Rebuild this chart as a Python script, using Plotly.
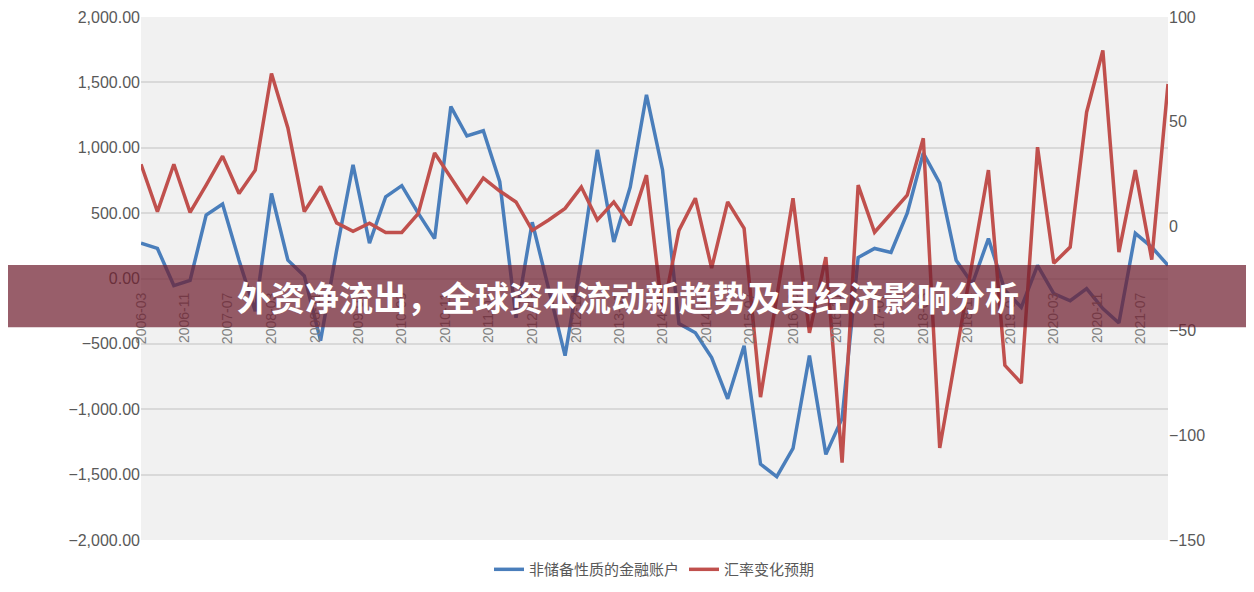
import pandas as pd
import plotly.graph_objects as go

# quarterly observations, 2006-03 .. 2021-12
dates = pd.date_range("2006-03-01", periods=64, freq="3MS")

financial_account = [
    270, 230, -54, -15, 485, 570, 140, -250, 650, 140,
    20, -475, 215, 870, 270, 625, 710, 500, 305, 1315,
    1090, 1130, 740, -300, 430, -90, -590, 150, 985, 280,
    700, 1405, 830, -345, -415, -605, -920, -515, -1420, -1515,
    -1300, -590, -1345, -1070, 160, 230, 200, 500, 960, 730,
    140, -40, 305, -90, -220, 100, -115, -170, -77, -230,
    -340, 345, 240, 100,
]
fx_expectation = [
    29.6, 7, 29.6, 6.6, 19.6, 33.5, 15.6, 26.8, 73, 47,
    7, 19, 1.6, -2.4, 1.4, -3, -3, 6, 35, 23.6,
    11.6, 23, 16.8, 11.6, -2, 3, 8.5, 18.7, 3, 11.6,
    0.5, 24.4, -41.6, -2, 13.4, -20, 11.6, -1, -81.7, -34,
    13.4, -51, -14.8, -113, 19.6, -2.9, 5.7, 14.8, 42, -106,
    -61, -16, 26.8, -66.5, -75, 37.8, -17.7, -10, 54.5, 84,
    -12.4, 26.8, -16, 68,
]
left_ticks = [2000, 1500, 1000, 500, 0, -500, -1000, -1500, -2000]
right_ticks = [100, 50, 0, -50, -100, -150]
title = "外资净流出，全球资本流动新趋势及其经济影响分析"

blue = "#4a7ebb"
red = "#c0504d"
grey = "#595959"

fig = go.Figure()
fig.add_trace(go.Scatter(x=dates, y=financial_account, name="非储备性质的金融账户",
                         mode="lines", line=dict(color=blue, width=3.5)))
fig.add_trace(go.Scatter(x=dates, y=fx_expectation, name="汇率变化预期", yaxis="y2",
                         mode="lines", line=dict(color=red, width=3.5)))

# page body adds an ~8px offset, so the figure is slightly smaller than the window
fig.update_layout(
    width=1238, height=576,
    margin=dict(l=133, r=78, t=9, b=44, autoexpand=False),
    paper_bgcolor="white", plot_bgcolor="#f1f1f1",
    font=dict(family="Liberation Sans, Noto Sans CJK SC", color=grey, size=16),
    xaxis=dict(range=[dates[0], dates[-1]], tickformat="%Y-%m", dtick="M8",
               tick0="2006-03-01", tickangle=-90, tickfont=dict(size=14, color="#7f7f7f"),
               anchor="free", position=0.48, showgrid=False, showline=False,
               ticks="", automargin=False),
    yaxis=dict(range=[-2000, 2000], tickvals=left_ticks, tickformat=",.2f",
               gridcolor="#d9d9d9", gridwidth=2, zeroline=False, automargin=False),
    yaxis2=dict(range=[-150, 100], tickvals=right_ticks, overlaying="y", side="right",
                showgrid=False, zeroline=False, automargin=False),
    legend=dict(orientation="h", x=0.5, xanchor="center", y=-0.025, yanchor="top",
                font=dict(family="Noto Sans CJK SC", size=15, color=grey)),
    showlegend=True,
)

# title banner over the chart
fig.add_shape(type="rect", xref="paper", yref="paper",
              x0=-0.2, x1=1.2, y0=0.407, y1=0.526,
              fillcolor="rgba(112,32,48,0.72)", line_width=0, layer="above")
fig.add_annotation(text="<b>" + title + "</b>", xref="paper", yref="paper",
                   x=0.474, y=0.4665, showarrow=False,
                   font=dict(family="Noto Sans CJK SC", size=34, color="white"))

fig.write_html("out.html")
